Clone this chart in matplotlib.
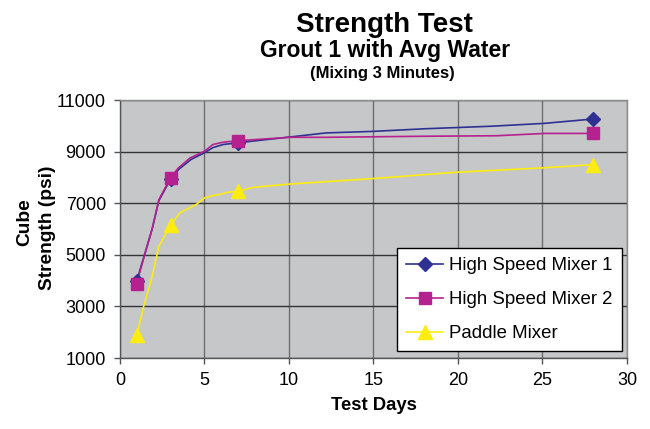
import matplotlib.pyplot as plt

plt.rcParams['font.family'] = ['Liberation Sans', 'DejaVu Sans']

# test ages (days) and measured cube strengths (psi)
days = [1, 3, 7, 28]
hsm1 = [4000, 7950, 9350, 10270]
hsm2 = [3880, 8000, 9430, 9710]
paddle = [1900, 6170, 7470, 8500]

# traced strength-gain curves between the test ages
hsm1_curve_days = [1, 1.2, 1.9, 2.3, 3, 3.5, 4.2, 5.0, 5.5, 6.1, 7, 10.1, 12.2, 15, 18, 22, 25.1, 28]
hsm1_curve = [4000, 4450, 6000, 7100, 7950, 8330, 8700, 8960, 9160, 9280, 9350,
              9575, 9730, 9790, 9890, 9990, 10100, 10270]
hsm2_curve_days = [1, 1.2, 1.9, 2.3, 3, 3.45, 4.15, 5.0, 5.5, 6.1, 7, 10.1, 12.2, 17.8, 22.3, 25.1, 28]
hsm2_curve = [3880, 4400, 6000, 7140, 8000, 8370, 8760, 9020, 9280, 9370, 9430,
              9560, 9560, 9600, 9620, 9710, 9710]
paddle_curve_days = [1, 1.4, 1.9, 2.3, 3, 3.55, 4.5, 5.0, 5.5, 5.9, 6.3, 7, 7.9, 10.1, 15, 19.8, 24.9, 28]
paddle_curve = [1900, 3000, 4170, 5330, 6170, 6630, 6950, 7210, 7300, 7340, 7420, 7470,
                7620, 7750, 7960, 8200, 8370, 8500]

x_ticks = [0, 5, 10, 15, 20, 25, 30]
y_ticks = [1000, 3000, 5000, 7000, 9000, 11000]

series = [
    ('High Speed Mixer 1', hsm1_curve_days, hsm1_curve, hsm1, '#2e3192', 'D', 7.5),
    ('High Speed Mixer 2', hsm2_curve_days, hsm2_curve, hsm2, '#b5218e', 's', 8.5),
    ('Paddle Mixer', paddle_curve_days, paddle_curve, paddle, '#fdec10', '^', 9.5),
]

fig = plt.figure(figsize=(6.5, 4.29), dpi=100)
ax = fig.add_axes([0.1846, 0.1655, 0.78, 0.601])
ax.set_facecolor('#c6c7c9')

handles, labels = [], []
for name, cx, cy, vals, color, mk, ms in series:
    line, = ax.plot(cx, cy, color=color, lw=1.2, zorder=3)
    pts, = ax.plot(days, vals, ls='none', marker=mk, ms=ms, color=color,
                   markeredgecolor=color, zorder=4)
    handles.append((line, pts))
    labels.append(name)

ax.set_xlim(0, 30)
ax.set_ylim(1000, 11000)
ax.set_xticks(x_ticks)
ax.set_yticks(y_ticks)

ax.grid(axis='y', color='#333333', lw=1.0, zorder=1)
ax.grid(axis='x', color='#6e6e6e', lw=1.0, zorder=1)
for side in ['left', 'bottom']:
    ax.spines[side].set_color('#555555')
    ax.spines[side].set_linewidth(1.0)
for side in ['top', 'right']:
    ax.spines[side].set_color('#8c8c8c')
    ax.spines[side].set_linewidth(1.0)
ax.tick_params(direction='out', length=4, width=1, color='#555555',
               labelsize=13, pad=6)

ax.set_xlabel('Test Days', fontsize=13.3, fontweight='bold', labelpad=6)
fig.text(0.0385, 0.4825, 'Cube', rotation=90, fontsize=13.8, fontweight='bold',
         ha='center', va='center')
fig.text(0.0738, 0.4685, 'Strength (psi)', rotation=90, fontsize=13.8, fontweight='bold',
         ha='center', va='center')

fig.text(0.591, 0.926, 'Strength Test', fontsize=20, fontweight='bold', ha='center', va='baseline')
fig.text(0.592, 0.868, 'Grout 1 with Avg Water', fontsize=16.5, fontweight='bold', ha='center', va='baseline')
fig.text(0.588, 0.818, '(Mixing 3 Minutes)', fontsize=12, fontweight='bold', ha='center', va='baseline')

leg = ax.legend(handles, labels, loc='upper left', bbox_to_anchor=(0.546, 0.426),
                borderaxespad=0, fontsize=13.4, handlelength=2.0,
                handletextpad=0.3, labelspacing=0.9, borderpad=0.5,
                fancybox=False, framealpha=1, edgecolor='black')
leg.get_frame().set_linewidth(1.0)
leg.set_zorder(5)

fig.savefig('out.png', dpi=100)
